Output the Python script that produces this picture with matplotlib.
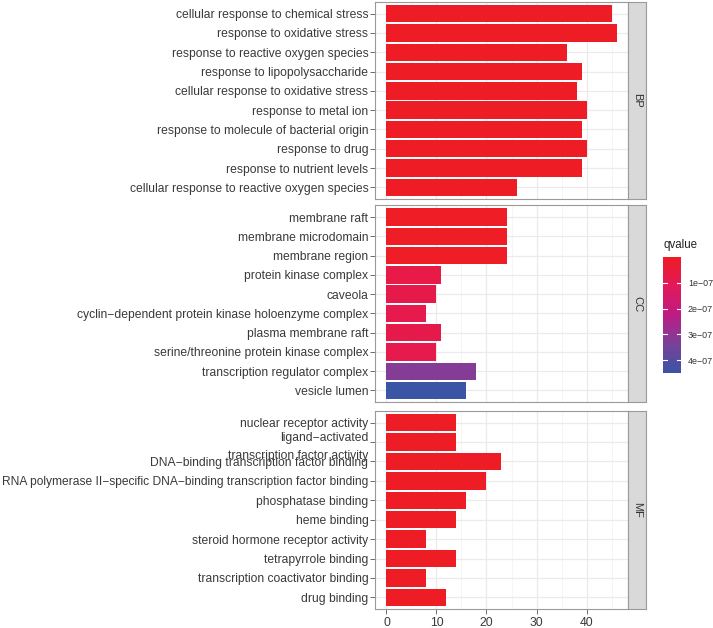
import numpy as np
import matplotlib
matplotlib.use("Agg")
import matplotlib.pyplot as plt
from matplotlib import font_manager
from matplotlib.colors import LinearSegmentedColormap, Normalize
from matplotlib.ticker import MultipleLocator

plt.rcParams['font.family'] = ['Liberation Sans', 'DejaVu Sans']
_names = {f.name for f in font_manager.fontManager.ttflist}
narrow = ['Liberation Sans Narrow', 'Liberation Sans', 'DejaVu Sans'] if 'Liberation Sans Narrow' in _names \
    else ['Liberation Sans', 'DejaVu Sans']
narrow_size = 7.3 if 'Liberation Sans Narrow' in _names else 6.4

M = "\u2212"
bp_terms = ["cellular response to chemical stress", "response to oxidative stress",
            "response to reactive oxygen species", "response to lipopolysaccharide",
            "cellular response to oxidative stress", "response to metal ion",
            "response to molecule of bacterial origin", "response to drug",
            "response to nutrient levels", "cellular response to reactive oxygen species"]
bp_counts = [45, 46, 36, 39, 38, 40, 39, 40, 39, 26]
bp_q = [1e-12, 1e-12, 1e-12, 2e-12, 2e-12, 3e-12, 3e-12, 3e-12, 4e-12, 5e-12]

cc_terms = ["membrane raft", "membrane microdomain", "membrane region",
            "protein kinase complex", "caveola",
            "cyclin" + M + "dependent protein kinase holoenzyme complex",
            "plasma membrane raft", "serine/threonine protein kinase complex",
            "transcription regulator complex", "vesicle lumen"]
cc_counts = [24, 24, 24, 11, 10, 8, 11, 10, 18, 16]
cc_q = [3e-9, 3e-9, 3e-9, 7.5e-8, 8e-8, 8.5e-8, 8e-8, 8.5e-8, 3.2e-7, 4.5e-7]

mf_terms = ["nuclear receptor activity",
            "ligand" + M + "activated\ntranscription factor activity",
            "DNA" + M + "binding transcription factor binding",
            "RNA polymerase II" + M + "specific DNA" + M + "binding transcription factor binding",
            "phosphatase binding", "heme binding", "steroid hormone receptor activity",
            "tetrapyrrole binding", "transcription coactivator binding", "drug binding"]
mf_counts = [14, 14, 23, 20, 16, 14, 8, 14, 8, 12]
mf_q = [1e-11, 1e-11, 1e-11, 2e-11, 2e-11, 3e-11, 3e-11, 3e-11, 4e-11, 5e-11]

facets = ["BP", "CC", "MF"]
cb_ticks = [1e-7, 2e-7, 3e-7, 4e-7]
cb_labels = ["1e" + M + "07", "2e" + M + "07", "3e" + M + "07", "4e" + M + "07"]
x_ticks = [0, 10, 20, 30, 40]

cmap = LinearSegmentedColormap.from_list(
    "rb", [(0.0, "#EE1D25"), (0.25, "#E3195A"), (0.5, "#BD1C84"),
           (0.75, "#7A419A"), (1.0, "#3A55A5")])
qmin = min(bp_q + cc_q + mf_q)
qmax = max(bp_q + cc_q + mf_q)
norm = Normalize(vmin=qmin, vmax=qmax)

W, H = 713, 628
fig = plt.figure(figsize=(W / 100, H / 100), dpi=100)

def fax(x0, y0, x1, y1):
    return fig.add_axes([x0 / W, 1 - y1 / H, (x1 - x0) / W, (y1 - y0) / H])

panels = [(2, 199), (205.5, 402), (411, 609)]
data = [(bp_terms, bp_counts, bp_q), (cc_terms, cc_counts, cc_q), (mf_terms, mf_counts, mf_q)]
allmax = max(bp_counts + cc_counts + mf_counts)
xlo, xhi = -0.05 * allmax, allmax * 1.05

for k, ((y0, y1), (terms, counts, qs)) in enumerate(zip(panels, data)):
    ax = fax(375, y0, 628, y1)
    n = len(terms)
    ypos = np.arange(n)[::-1]
    ax.set_axisbelow(True)
    ax.barh(ypos, counts, height=0.9, color=cmap(norm(np.array(qs))), edgecolor='none', zorder=2)
    ax.set_xlim(xlo, xhi)
    ax.set_ylim(-0.6, n - 0.4)
    ax.set_yticks(ypos)
    labs = ax.set_yticklabels(terms, fontsize=8.7, color='#3a3a3a', linespacing=1.7)
    for lab in labs:
        if lab.get_text().startswith("RNA polymerase"):
            lab.set_fontsize(8.66)
    ax.xaxis.set_major_locator(MultipleLocator(10))
    ax.xaxis.set_minor_locator(MultipleLocator(5))
    ax.grid(True, which='major', color='#EBEBEB', linewidth=0.9)
    ax.grid(True, which='minor', axis='x', color='#F2F2F2', linewidth=0.5)
    ax.tick_params(axis='y', length=3.5, width=0.6, color='#555555', pad=1.2)
    ax.tick_params(which='minor', length=0)
    if k < 2:
        ax.tick_params(axis='x', which='both', length=0, labelbottom=False)
    else:
        ax.set_xticks(x_ticks)
        ax.tick_params(axis='x', length=3.5, width=0.6, color='#555555', pad=2,
                       labelsize=8.7, labelcolor='#3a3a3a')
    for s in ax.spines.values():
        s.set_color('#9a9a9a')
        s.set_linewidth(0.8)
    # strip
    sax = fax(628, y0, 646, y1)
    sax.set_facecolor('#D9D9D9')
    sax.set_xticks([]); sax.set_yticks([])
    for s in sax.spines.values():
        s.set_color('#9a9a9a')
        s.set_linewidth(0.8)
    sax.text(0.5, 0.5, facets[k], rotation=-90, ha='center', va='center',
             fontsize=8, color='#333333', transform=sax.transAxes)

# colorbar
cax = fax(663, 257, 681, 373)
grad = np.linspace(qmin, qmax, 256).reshape(-1, 1)
cax.imshow(grad, aspect='auto', cmap=cmap, norm=norm, extent=[0, 1, qmax, qmin])
cax.set_xlim(0, 1)
cax.set_ylim(qmax, qmin)
cax.set_xticks([])
cax.set_yticks(cb_ticks)
cax.set_yticklabels(cb_labels, fontsize=narrow_size, color='#333333', family=narrow)
cax.yaxis.tick_right()
cax.tick_params(axis='y', length=0, pad=5)
for t in cb_ticks:
    cax.plot([0, 0.2], [t, t], color='white', lw=0.8)
    cax.plot([0.8, 1], [t, t], color='white', lw=0.8)
for s in cax.spines.values():
    s.set_visible(False)
fig.text(663 / W, 1 - 245 / H, "qvalue", fontsize=8.3, color='#222222', ha='left', va='center')

fig.savefig("out.png", dpi=100)
